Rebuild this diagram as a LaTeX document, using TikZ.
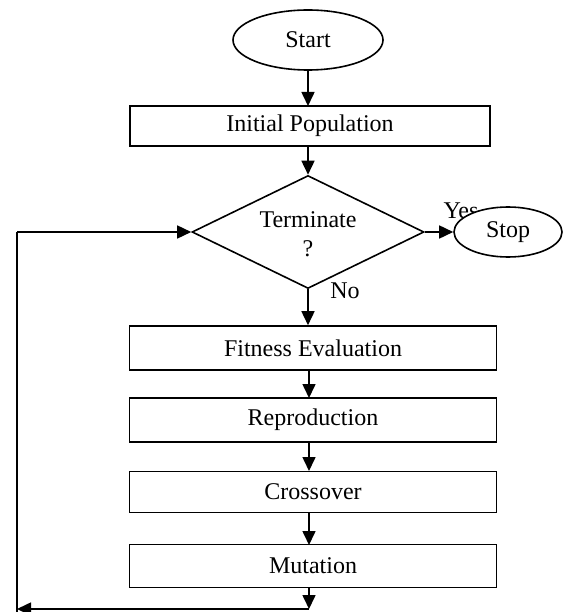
\documentclass[tikz,border=0pt]{standalone}
\usepackage{fontspec}
\setmainfont{Liberation Serif}
\usetikzlibrary{shapes.geometric,arrows.meta}
\begin{document}
\begin{tikzpicture}[x=1pt,y=-1pt,
  every node/.style={font=\fontsize{24}{28}\selectfont},
  line/.style={line width=1.6pt},
  arr/.style={line width=1.6pt,-{Triangle[length=14pt,width=13pt]}},
  boxnode/.style={draw,line width=1.6pt,rectangle,minimum width=362pt,minimum height=43pt,inner sep=0pt,fill=white},
  term/.style={draw,line width=1.6pt,ellipse,inner sep=0pt,fill=white}]
\useasboundingbox (0,0) rectangle (563,612);
\node[term,minimum width=150pt,minimum height=60pt] (start) at (308,40) {Start};
\node[boxnode,minimum width=360pt,minimum height=40pt] (init) at (310,126) {Initial Population};
\node[draw,line width=1.6pt,diamond,aspect=2.05,minimum width=232pt,minimum height=113pt,inner sep=0pt,align=center] (term) at (308,232) {};
\node (termtxt) at (308,234) [align=center] {Terminate\\[1pt]?};
\node (yes) at (461,211) {Yes};
\node[term,minimum width=108pt,minimum height=50pt] (stop) at (508,232) {Stop};
\node (no) at (345,291) {No};
\node[boxnode,minimum width=367pt,minimum height=44pt] (fit) at (313,348) {Fitness Evaluation};
\node[boxnode,minimum width=367pt,minimum height=44pt] (rep) at (313,420) {Reproduction};
\node[boxnode,minimum width=367pt,minimum height=41pt] (cross) at (313,492) {Crossover};
\node[boxnode,minimum width=367pt,minimum height=43pt] (mut) at (313,566) {Mutation};
\coordinate (bot) at (309,609);
\coordinate (botl) at (17,609);
\coordinate (corner) at (17,232);
\coordinate (low) at (17,614);
\draw[arr] (start.south -| 308,0) -- (308,106);
\draw[arr] (init.south -| 308,0) -- (term.north);
\draw[arr] (term.east) -- (stop.west);
\draw[arr] (term.south) -- (term.south |- fit.north);
\draw[arr] (fit.south -| 309,0) -- (309,398);
\draw[arr] (rep.south -| 309,0) -- (309,471);
\draw[arr] (cross.south -| 309,0) -- (309,545);
\draw[arr] (mut.south -| 309,0) -- (bot);
\draw[arr] (bot) -- (botl);
\draw[line] (low) -- (corner);
\draw[arr] (corner) -- (term.west);
\end{tikzpicture}
\end{document}
